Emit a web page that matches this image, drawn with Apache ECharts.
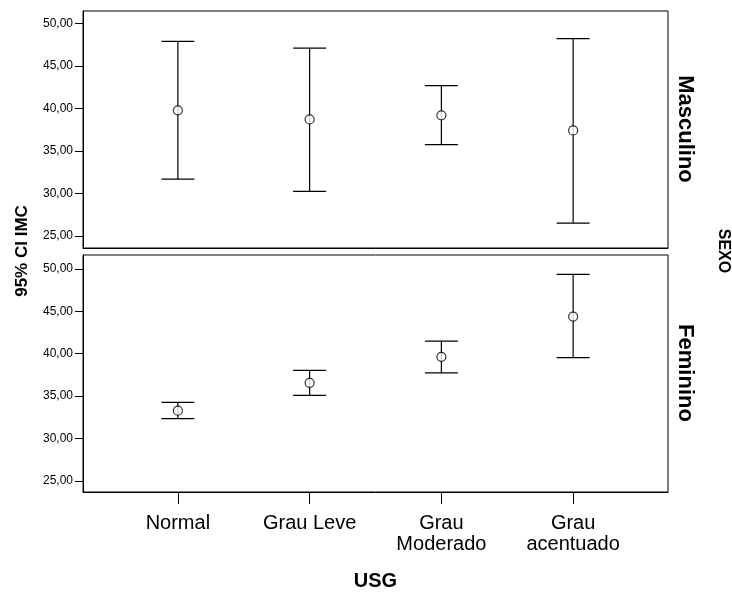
<!DOCTYPE html>
<html>
<head>
<meta charset="utf-8">
<script src="https://cdn.jsdelivr.net/npm/echarts@6/dist/echarts.min.js"></script>
<style>
html,body{margin:0;padding:0;background:#fff;}
#chart{width:732px;height:594px;}
</style>
</head>
<body>
<div id="chart"></div>
<script>
var categories = ['Normal', 'Grau Leve', 'Grau\nModerado', 'Grau\nacentuado'];
var yTicks = [25, 30, 35, 40, 45, 50];
var mascMean = [39.76, 38.70, 39.18, 37.40];
var mascLow  = [31.68, 30.24, 35.72, 26.50];
var mascHigh = [47.88, 47.09, 42.66, 48.20];
var femMean  = [33.28, 36.56, 39.63, 44.37];
var femLow   = [32.34, 35.09, 37.74, 39.52];
var femHigh  = [34.27, 38.02, 41.48, 49.34];

var FONT = 'Arial, "Liberation Sans", sans-serif';
var idx = categories.map(function (c, i) { return i; });

function barData(low, high) {
  return low.map(function (l, i) { return [i, l, high[i]]; });
}
function meanData(m) {
  return m.map(function (v, i) { return [i, v]; });
}
function renderErr(params, api) {
  var x = api.value(0);
  var lo = api.coord([x, api.value(1)]);
  var hi = api.coord([x, api.value(2)]);
  var hw = 16.5;
  var st = { stroke: '#000', lineWidth: 1.2 };
  return {
    type: 'group',
    children: [
      { type: 'line', shape: { x1: hi[0], y1: hi[1], x2: lo[0], y2: lo[1] }, style: st },
      { type: 'line', shape: { x1: hi[0] - hw, y1: hi[1], x2: hi[0] + hw, y2: hi[1] }, style: st },
      { type: 'line', shape: { x1: lo[0] - hw, y1: lo[1], x2: lo[0] + hw, y2: lo[1] }, style: st }
    ]
  };
}
function yAxis(gi, mn, mx) {
  return {
    type: 'value', gridIndex: gi, min: mn, max: mx,
    axisLine: { show: true, onZero: false, lineStyle: { color: '#000', width: 1 } },
    axisTick: { show: true, customValues: yTicks, length: 8, lineStyle: { color: '#000' } },
    axisLabel: {
      customValues: yTicks, margin: 10, color: '#000', fontSize: 12, fontFamily: FONT,
      formatter: function (v) { return v.toFixed(2).replace('.', ','); }
    },
    splitLine: { show: false }
  };
}

var chart = echarts.init(document.getElementById('chart'), null, { renderer: 'canvas' });
chart.setOption({
  backgroundColor: '#fff',
  animation: false,
  grid: [
    { left: 83, right: 64, top: 11, height: 237, show: true, borderColor: '#000', borderWidth: 1, backgroundColor: '#fff' },
    { left: 83, right: 64, top: 255, height: 237, show: true, borderColor: '#000', borderWidth: 1, backgroundColor: '#fff' }
  ],
  xAxis: [
    { type: 'value', gridIndex: 0, min: -0.72, max: 3.72,
      axisLine: { show: true, onZero: false, lineStyle: { color: '#000' } }, axisTick: { show: false },
      axisLabel: { show: false }, splitLine: { show: false } },
    { type: 'value', gridIndex: 1, min: -0.72, max: 3.72,
      axisLine: { show: true, onZero: false, lineStyle: { color: '#000' } },
      axisTick: { show: true, customValues: idx, length: 12, lineStyle: { color: '#000' } },
      axisLabel: {
        customValues: idx, margin: 21, color: '#000', fontSize: 20, fontFamily: FONT, lineHeight: 21,
        formatter: function (v) { return categories[Math.round(v)]; }
      },
      splitLine: { show: false },
      name: 'USG', nameLocation: 'middle', nameGap: 79,
      nameTextStyle: { color: '#000', fontSize: 20, fontWeight: 'bold', fontFamily: FONT }
    }
  ],
  yAxis: [yAxis(0, 23.57, 51.45), yAxis(1, 23.7, 51.62)],
  graphic: [
    { type: 'text', x: 22, y: 251, rotation: Math.PI / 2,
      style: { text: '95% CI IMC', fill: '#000', font: 'bold 17px ' + FONT, align: 'center', verticalAlign: 'middle' } },
    { type: 'text', x: 685, y: 129, rotation: -Math.PI / 2,
      style: { text: 'Masculino', fill: '#000', font: 'bold 22px ' + FONT, align: 'center', verticalAlign: 'middle' } },
    { type: 'text', x: 685, y: 373, rotation: -Math.PI / 2,
      style: { text: 'Feminino', fill: '#000', font: 'bold 22px ' + FONT, align: 'center', verticalAlign: 'middle' } },
    { type: 'text', x: 723, y: 251, rotation: -Math.PI / 2,
      style: { text: 'SEXO', fill: '#000', font: 'bold 16px ' + FONT, align: 'center', verticalAlign: 'middle' } }
  ],
  series: [
    { type: 'custom', xAxisIndex: 0, yAxisIndex: 0, renderItem: renderErr, data: barData(mascLow, mascHigh), z: 2 },
    { type: 'scatter', xAxisIndex: 0, yAxisIndex: 0, symbol: 'circle', symbolSize: 9,
      itemStyle: { color: '#fff', borderColor: '#000', borderWidth: 1.2 }, data: meanData(mascMean), z: 3 },
    { type: 'custom', xAxisIndex: 1, yAxisIndex: 1, renderItem: renderErr, data: barData(femLow, femHigh), z: 2 },
    { type: 'scatter', xAxisIndex: 1, yAxisIndex: 1, symbol: 'circle', symbolSize: 9,
      itemStyle: { color: '#fff', borderColor: '#000', borderWidth: 1.2 }, data: meanData(femMean), z: 3 }
  ]
});
</script>
</body>
</html>
